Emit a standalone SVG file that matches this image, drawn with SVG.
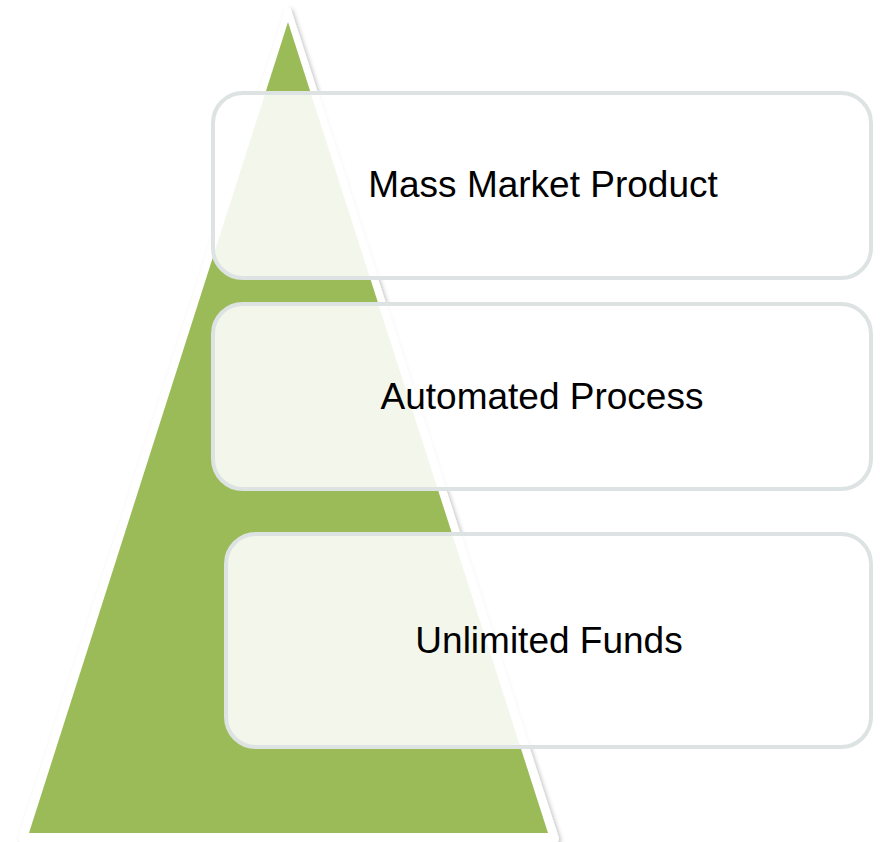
<svg xmlns="http://www.w3.org/2000/svg" width="880" height="842" viewBox="0 0 880 842">
<defs>
<filter id="sh" x="-10%" y="-10%" width="120%" height="120%">
<feDropShadow dx="2" dy="2" stdDeviation="2" flood-color="#000" flood-opacity="0.25"/>
</filter>
</defs>
<style>
.box{fill:#fff;fill-opacity:0.88;stroke:#dde3e3;stroke-width:4}
.lbl{font-family:"Liberation Sans",Arial,sans-serif;font-size:37px;fill:#000;text-anchor:middle}
</style>
<rect width="880" height="842" fill="#fff"/>
<g id="pyramid">
<polygon points="288,10 21,839 556,839" fill="#fff" stroke="#fff" stroke-width="6" stroke-linejoin="round" filter="url(#sh)"/>
<polygon points="288,22 29,833 548,833" fill="#9bbb59"/>
</g>
<g id="connectors"></g>
<g id="node1">
<rect class="box" x="213" y="93" width="658" height="185" rx="30"/>
<text class="lbl" x="543" y="197">Mass Market Product</text>
</g>
<g id="node2">
<rect class="box" x="213" y="304" width="658" height="185" rx="30"/>
<text class="lbl" x="542" y="409">Automated Process</text>
</g>
<g id="node3">
<rect class="box" x="226" y="534" width="645" height="213" rx="30"/>
<text class="lbl" x="549" y="653">Unlimited Funds</text>
</g>
</svg>
